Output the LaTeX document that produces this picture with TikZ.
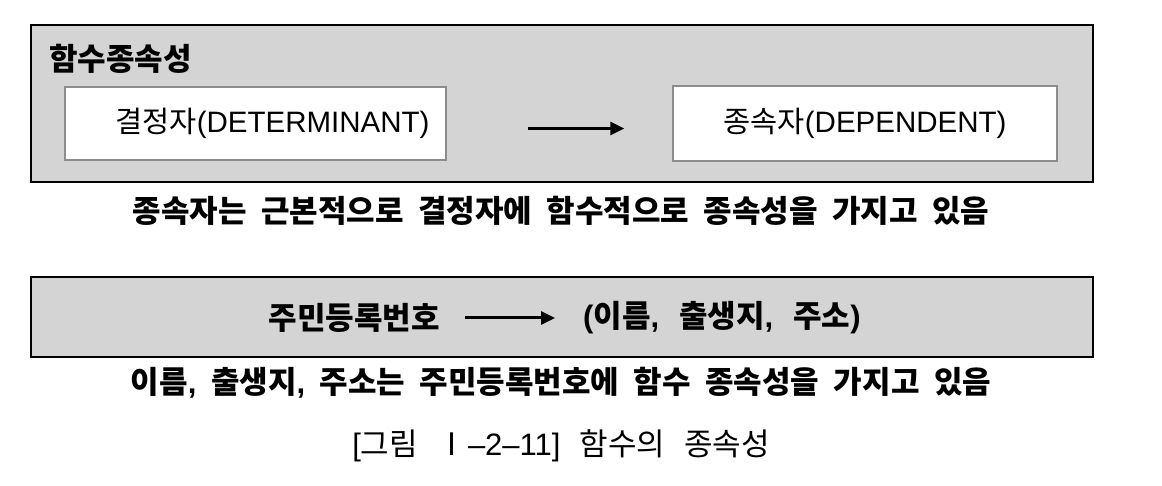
\documentclass[tikz,border=0pt]{standalone}
\usepackage{fontspec}
\setmainfont{Noto Sans CJK KR}
\newfontfamily\latinFont{Liberation Sans}
\usetikzlibrary{arrows.meta, positioning}
\colorlet{panelFill}{black!17}
\colorlet{entityLine}{black!45}
\newcommand{\lat}[1]{{\latinFont #1}}
\newcommand{\wideSpace}{\spaceskip 14.5pt\relax}
\tikzstyle{panel}=[rectangle, draw=black, line width=2pt, fill=panelFill]
\tikzstyle{entity}=[rectangle, draw=entityLine, line width=1.5pt, fill=white,
font=\fontsize{29.5}{34}\selectfont]
\tikzstyle{label}=[inner sep=0pt, font=\fontsize{31}{36}\selectfont\bfseries\wideSpace]
\tikzstyle{caption}=[inner sep=0pt, font=\fontsize{31}{36}\selectfont\bfseries\wideSpace]
\tikzstyle{arrow}=[-{Triangle[length=14pt, width=13pt]}, line width=3pt, draw=black]

\begin{document}
\begin{tikzpicture}[x=1pt, y=-1pt]
  \useasboundingbox (0,0) rectangle (1162,486);
  % first panel
  \node(funcDep) [panel, minimum width=1062pt, minimum height=157pt] at (562,103.5) {};
  \node(funcTitle) [label, anchor=west] at (49,59) {함수종속성};
  \node(determinant) [entity, minimum width=381pt, minimum height=73pt] at (255.5,123.5) {\hspace*{34pt}결정자\lat{(DETERMINANT)}};
  \node(dependent) [entity, minimum width=384pt, minimum height=75pt] at (865,123.5) {종속자\lat{(DEPENDENT)}};
  \draw [arrow, shorten <=81pt, shorten >=48pt] ([yshift=-5pt]determinant.east) -- ([yshift=-5pt]dependent.west);
  \node(note1) [caption] at (561,211) {종속자는 근본적으로 결정자에 함수적으로 종속성을 가지고 있음};
  % second panel
  \node(example) [panel, minimum width=1062pt, minimum height=80pt] at (562,317) {};
  \node(residentNo) [label, anchor=east] at (440,318) {주민등록번호};
  \node(personInfo) [label, anchor=west] at (583,318) {\spaceskip 20pt\relax\lat{(}이름\lat{,} 출생지\lat{,} 주소\lat{)}};
  \draw [arrow, shorten <=25pt, shorten >=28pt] (residentNo) -- (personInfo);
  \node(note2) [caption] at (561,383) {이름\lat{,} 출생지\lat{,} 주소는 주민등록번호에 함수 종속성을 가지고 있음};
  \node(figCap) [caption, font=\fontsize{31}{36}\selectfont\spaceskip 19pt\relax] at (561,446) {\lat{[}그림 Ⅰ\lat{–2–11]} 함수의 종속성};
\end{tikzpicture}
\end{document}
